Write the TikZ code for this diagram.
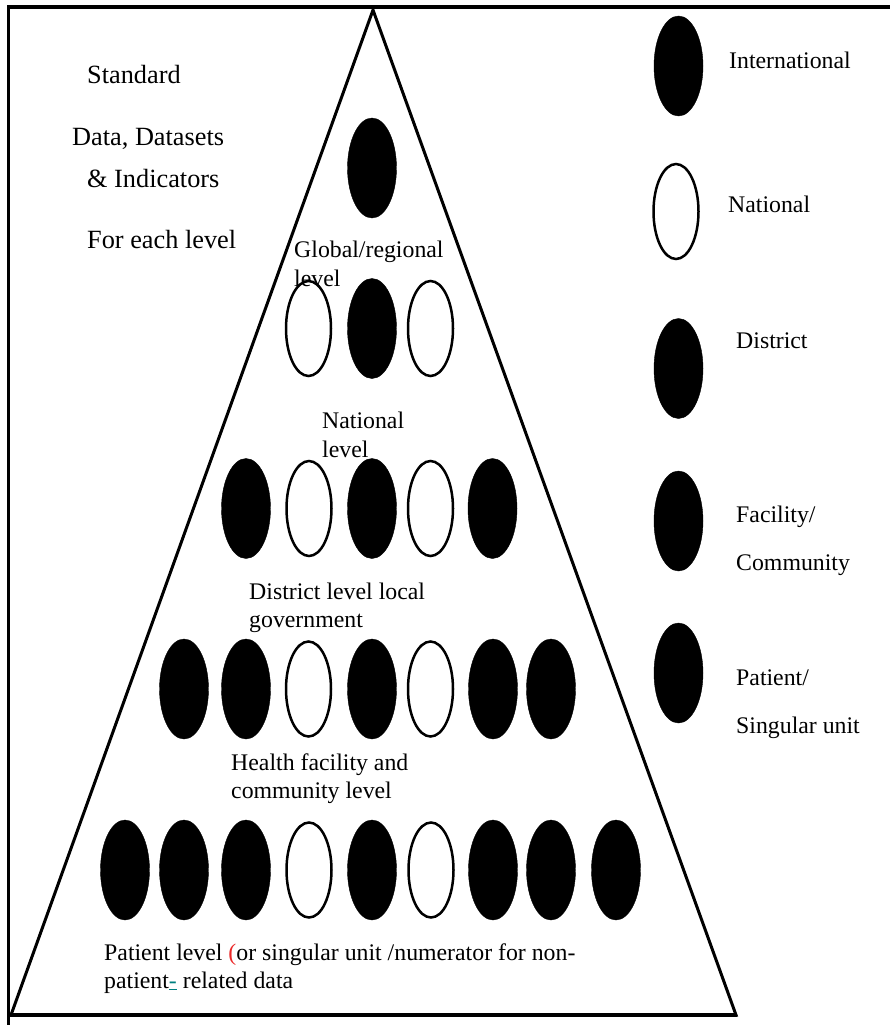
\documentclass[tikz,border=0pt]{standalone}
\usepackage{fontspec}
\setmainfont{Liberation Serif}
\usetikzlibrary{shapes.geometric}
\definecolor{redmark}{RGB}{235,40,40}
\definecolor{tealmark}{RGB}{0,128,128}
\begin{document}
\begin{tikzpicture}[x=1pt,y=-1pt,
  dot/.style={ellipse, inner sep=0pt, minimum width=49pt, minimum height=100pt, draw=black, fill=black},
  hollow/.style={ellipse, inner sep=0pt, minimum width=45pt, minimum height=95pt, draw=black, line width=2.5pt},
  lbl/.style={anchor=base west, inner sep=0pt, font=\fontsize{23.8}{28}\selectfont},
  big/.style={anchor=base west, inner sep=0pt, font=\fontsize{26.3}{30}\selectfont},
  frameline/.style={line width=3.5pt},
  tri/.style={line width=3pt}]
\useasboundingbox (0,0) rectangle (890,1025);
% frame
\coordinate (ftl) at (8.5,7);
\coordinate (ftr) at (890,7);
\coordinate (fbl) at (8.5,1025);
\coordinate (bl0) at (8.5,1015);
\coordinate (br0) at (737,1015);
\draw[frameline] (ftr) -- (ftl) -- (fbl);
\draw[frameline] (bl0) -- (br0);
% triangle
\coordinate (apex) at (373,10);
\coordinate (bR) at (736,1015);
\coordinate (bL) at (11,1015);
\draw[tri] (apex) -- (bR) -- (bL) -- cycle;
% row 1
\node[dot] (r1a) at (372,168) {};
% row 2
\node[hollow] (r2a) at (308.5,328.5) {};
\node[dot] (r2b) at (372,328.5) {};
\node[hollow] (r2c) at (430.5,328.5) {};
% row 3
\node[dot] (r3a) at (246,508.5) {};
\node[hollow] (r3b) at (309,508.5) {};
\node[dot] (r3c) at (372,508.5) {};
\node[hollow] (r3d) at (430.5,508.5) {};
\node[dot] (r3e) at (492.5,508.5) {};
% row 4
\node[dot] (r4a) at (184,689) {};
\node[dot] (r4b) at (246,689) {};
\node[hollow] (r4c) at (308.5,689) {};
\node[dot] (r4d) at (372,689) {};
\node[hollow] (r4e) at (430.5,689) {};
\node[dot] (r4f) at (493,689) {};
\node[dot] (r4g) at (551,689) {};
% row 5
\node[dot] (r5a) at (125,870) {};
\node[dot] (r5b) at (184,870) {};
\node[dot] (r5c) at (246,870) {};
\node[hollow] (r5d) at (309,870) {};
\node[dot] (r5e) at (372,870) {};
\node[hollow] (r5f) at (431,870) {};
\node[dot] (r5g) at (493,870) {};
\node[dot] (r5h) at (551,870) {};
\node[dot] (r5i) at (616,870) {};
% legend
\node[dot] (lg1) at (678.5,66) {};
\node[hollow] (lg2) at (676,211.5) {};
\node[dot] (lg3) at (678.5,368.5) {};
\node[dot] (lg4) at (678.5,521) {};
\node[dot] (lg5) at (678.5,673) {};
\node[lbl] (lt1) at (729,68) {International};
\node[lbl] (lt2) at (728,212) {National};
\node[lbl] (lt3) at (736,348) {District};
\node[lbl] (lt4a) at (736,522) {Facility/};
\node[lbl] (lt4b) at (736,570) {Community};
\node[lbl] (lt5a) at (736,685) {Patient/};
\node[lbl] (lt5b) at (736,733) {Singular unit};
% left text
\node[big] (s1) at (87,83) {Standard};
\node[big] (s2) at (72,145) {Data, Datasets};
\node[big] (s3) at (87,187) {\& Indicators};
\node[big] (s4) at (87,248) {For each level};
% level labels
\node[lbl] (g1) at (294,257) {Global/regional};
\node[lbl] (g2) at (294,286) {level};
\node[lbl] (n1) at (322,428) {National};
\node[lbl] (n2) at (322,457) {level};
\node[lbl] (d1) at (249,599) {District level local};
\node[lbl] (d2) at (249,627) {government};
\node[lbl] (h1) at (231,770) {Health facility and};
\node[lbl] (h2) at (231,798) {community level};
\node[lbl] (p1) at (104,960) {Patient level {\color{redmark}(}or singular unit /numerator for non-};
\node[lbl] (p2) at (104,988) {patient{\color{tealmark}\underline{-}} related data};
\end{tikzpicture}
\end{document}
